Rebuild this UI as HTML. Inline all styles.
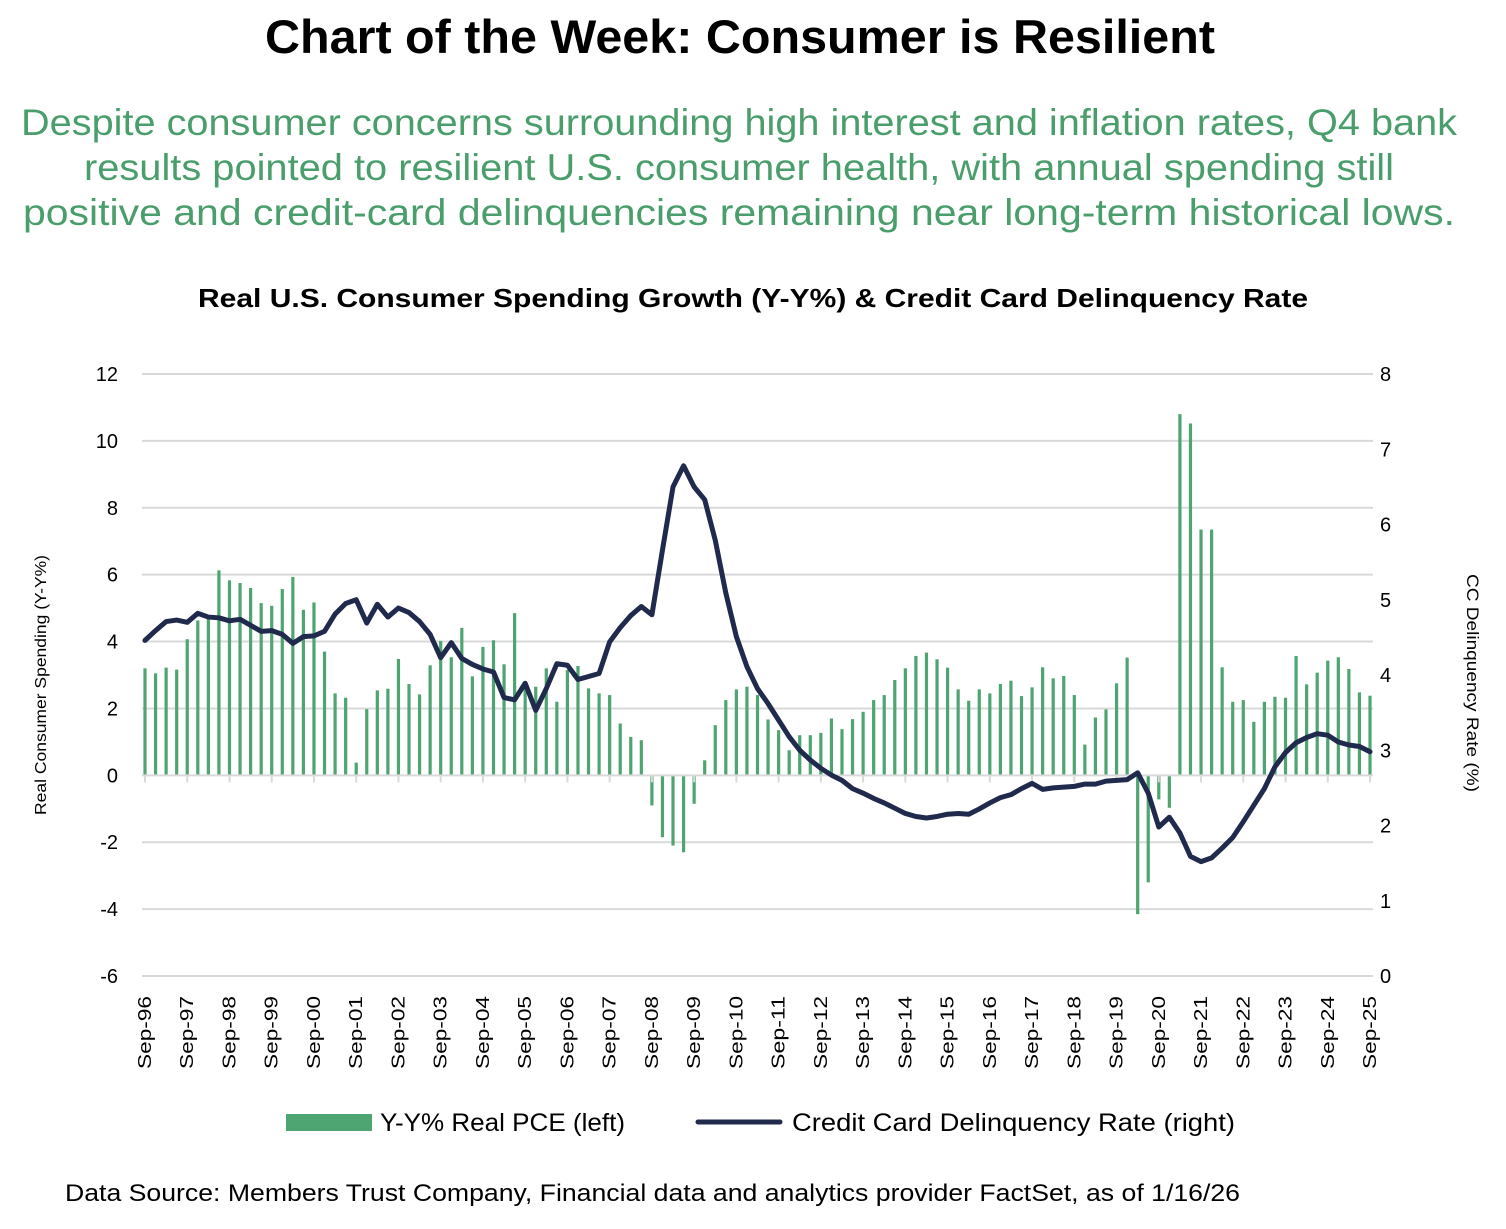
<!DOCTYPE html>
<html><head><meta charset="utf-8"><style>
body{margin:0;background:#fff;width:1506px;height:1224px;overflow:hidden;font-family:"Liberation Sans",Arial,sans-serif}
</style></head><body>
<svg width="1506" height="1224" viewBox="0 0 1506 1224" id="svg" font-family="Liberation Sans, Arial, sans-serif">
<text x="740" y="53" text-anchor="middle" font-size="47" font-weight="bold" fill="#000" textLength="950" lengthAdjust="spacingAndGlyphs">Chart of the Week: Consumer is Resilient</text>
<g font-size="37" fill="#4a9e6b" text-anchor="middle">
<text x="739" y="135" textLength="1436" lengthAdjust="spacingAndGlyphs">Despite consumer concerns surrounding high interest and inflation rates, Q4 bank</text>
<text x="739" y="180" textLength="1310" lengthAdjust="spacingAndGlyphs">results pointed to resilient U.S. consumer health, with annual spending still</text>
<text x="739" y="225" textLength="1432" lengthAdjust="spacingAndGlyphs">positive and credit-card delinquencies remaining near long-term historical lows.</text>
</g>
<text x="753" y="307" text-anchor="middle" font-size="26" font-weight="bold" fill="#000" textLength="1110" lengthAdjust="spacingAndGlyphs">Real U.S. Consumer Spending Growth (Y-Y%) &amp; Credit Card Delinquency Rate</text>
<g id="grid"></g>
<g id="bars"></g>
<g id="xaxis"></g>
<g id="line"></g>
<g id="lticks" font-size="20" text-anchor="end"></g>
<g id="rticks" font-size="20"></g>
<text transform="translate(46,685) rotate(-90)" text-anchor="middle" font-size="16" textLength="260" lengthAdjust="spacingAndGlyphs">Real Consumer Spending (Y-Y%)</text>
<text transform="translate(1467,683) rotate(90)" text-anchor="middle" font-size="17" textLength="218" lengthAdjust="spacingAndGlyphs">CC Delinquency Rate (%)</text>
<g>
<rect x="286" y="1114" width="86" height="17" fill="#4ea571"/>
<text x="380" y="1131" font-size="25" textLength="245" lengthAdjust="spacingAndGlyphs">Y-Y% Real PCE (left)</text>
<line x1="698" y1="1122" x2="780" y2="1122" stroke="#1f2a4d" stroke-width="5" stroke-linecap="round"/>
<text x="792" y="1131" font-size="25" textLength="443" lengthAdjust="spacingAndGlyphs">Credit Card Delinquency Rate (right)</text>
</g>
<text x="65" y="1201" font-size="24" textLength="1175" lengthAdjust="spacingAndGlyphs">Data Source: Members Trust Company, Financial data and analytics provider FactSet, as of 1/16/26</text>
</svg>
<script>
const pce=[3.2,3.05,3.22,3.16,4.07,4.63,4.67,6.13,5.83,5.75,5.6,5.15,5.07,5.57,5.93,4.95,5.17,3.7,2.45,2.32,0.38,1.98,2.54,2.59,3.48,2.73,2.42,3.29,4.02,3.53,4.41,2.96,3.84,4.04,3.32,4.85,2.65,2.65,3.2,2.2,3.15,3.27,2.6,2.45,2.4,1.55,1.15,1.05,-0.9,-1.85,-2.1,-2.3,-0.85,0.45,1.5,2.25,2.57,2.65,2.4,1.67,1.35,0.75,1.2,1.2,1.27,1.7,1.38,1.68,1.9,2.25,2.4,2.85,3.2,3.57,3.67,3.47,3.22,2.57,2.23,2.57,2.45,2.73,2.83,2.37,2.63,3.23,2.9,2.97,2.4,0.92,1.73,1.97,2.75,3.52,-4.15,-3.2,-0.72,-0.97,10.8,10.52,7.35,7.35,3.23,2.2,2.25,1.6,2.2,2.35,2.32,3.57,2.72,3.07,3.43,3.53,3.18,2.48,2.38];
const ccd=[4.46,4.59,4.71,4.73,4.70,4.82,4.77,4.76,4.72,4.74,4.66,4.58,4.59,4.54,4.42,4.51,4.52,4.58,4.81,4.95,5.0,4.69,4.94,4.77,4.89,4.83,4.71,4.54,4.23,4.43,4.22,4.14,4.08,4.04,3.70,3.67,3.89,3.53,3.82,4.15,4.13,3.94,3.98,4.02,4.44,4.63,4.79,4.91,4.80,5.66,6.50,6.78,6.50,6.33,5.79,5.09,4.51,4.11,3.82,3.62,3.40,3.18,3.00,2.87,2.76,2.67,2.60,2.49,2.43,2.36,2.30,2.23,2.16,2.12,2.10,2.12,2.15,2.16,2.15,2.22,2.30,2.37,2.41,2.49,2.56,2.48,2.50,2.51,2.52,2.55,2.55,2.59,2.60,2.61,2.70,2.43,1.98,2.11,1.90,1.59,1.52,1.57,1.70,1.84,2.05,2.27,2.49,2.78,2.97,3.10,3.17,3.22,3.20,3.11,3.07,3.05,2.98];
const leftTicks=[12,10,8,6,4,2,0,-2,-4,-6];
const rightTicks=[8,7,6,5,4,3,2,1,0];
const startYear=96;
const NS='http://www.w3.org/2000/svg';
const X0=145,X1=1370,YT=374,YB=976;
const n=pce.length;
function x(i){return X0+(X1-X0)*i/(n-1);}
function yl(v){return YB-(v+6)/18*(YB-YT);}
function yr(v){return YB-v/8*(YB-YT);}
function mk(t,a,p){const e=document.createElementNS(NS,t);for(const k in a)e.setAttribute(k,a[k]);p.appendChild(e);return e;}
const grid=document.getElementById('grid');
leftTicks.forEach(v=>{if(v===0)return;const l=mk('line',{x1:X0-3,x2:X1+3,y1:yl(v),y2:yl(v),stroke:'#d9d9d9','stroke-width':2},grid);

});
const lt=document.getElementById('lticks');
leftTicks.forEach(v=>{const t=mk('text',{x:118,y:yl(v)+7},lt);t.textContent=v;

});
const rt=document.getElementById('rticks');
rightTicks.forEach(v=>{const t=mk('text',{x:1380,y:yr(v)+7},rt);t.textContent=v;

});
const bars=document.getElementById('bars');
pce.forEach((v,i)=>{const y0=yl(0),y1=yl(v);const r=mk('rect',{x:x(i)-1.6,y:Math.min(y0,y1),width:3.2,height:Math.abs(y1-y0),fill:'#4ea571'},bars);

});
const xa=document.getElementById('xaxis');
const z=mk('line',{x1:X0-3,x2:X1+3,y1:yl(0),y2:yl(0),stroke:'#d9d9d9','stroke-width':2},xa);


for(let i=0;i<n;i+=4){
 const tk=mk('line',{x1:x(i),x2:x(i),y1:yl(0),y2:yl(0)+7,stroke:'#d9d9d9','stroke-width':2},xa);
 
 
 const yr2=(startYear+i/4)%100;
 const t=mk('text',{transform:`translate(${x(i)+6},996) rotate(-90)`,'text-anchor':'end','font-size':18,textLength:73,lengthAdjust:'spacingAndGlyphs'},xa);
 t.textContent='Sep-'+String(yr2).padStart(2,'0');
 
 
}
const lg=document.getElementById('line');
const p=mk('polyline',{points:ccd.map((v,i)=>x(i)+','+yr(v)).join(' '),fill:'none',stroke:'#1f2a4d','stroke-width':5,'stroke-linejoin':'round','stroke-linecap':'round'},lg);


</script>
</body></html>
